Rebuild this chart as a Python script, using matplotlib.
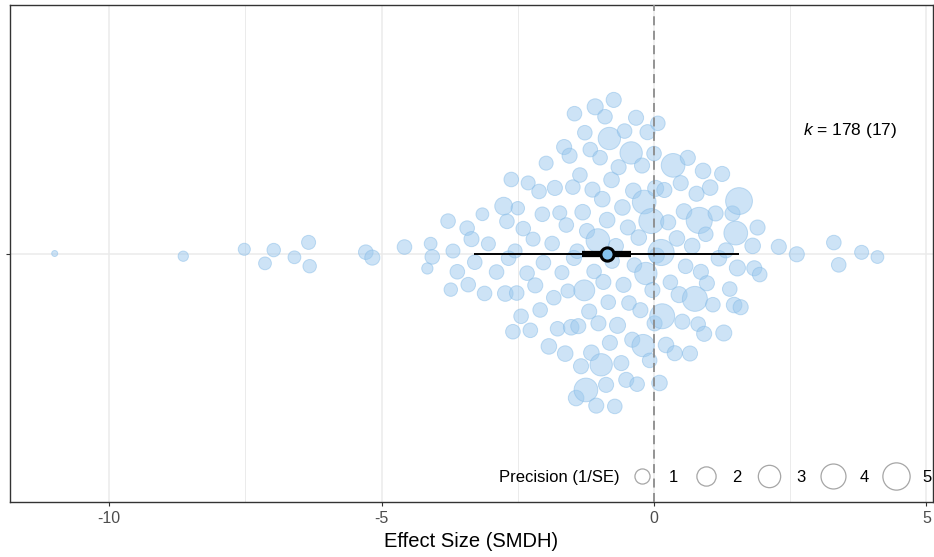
import numpy as np
import matplotlib
matplotlib.use("Agg")
import matplotlib.pyplot as plt
from matplotlib.lines import Line2D

plt.rcParams['font.family'] = ['Liberation Sans', 'DejaVu Sans']
plt.rcParams['mathtext.fontset'] = 'custom'
plt.rcParams['mathtext.rm'] = 'Liberation Sans'
plt.rcParams['mathtext.it'] = 'Liberation Sans:italic'
plt.rcParams['axes.unicode_minus'] = False

# effect sizes (SMDH), with their precision (1/SE)
es = [-11.0, -8.64, -7.52, -7.14, -6.98, -6.60, -6.34, -6.32, -5.29, -5.17,
      -4.58, -4.16, -4.10, -4.07, -3.78, -3.73, -3.69, -3.61,
      -3.43, -3.41, -3.35, -3.29, -3.15, -3.11, -3.04, -2.89, -2.76, -2.73,
      -2.70, -2.67, -2.62, -2.59, -2.55, -2.52, -2.50,
      -2.44, -2.40, -2.33, -2.31, -2.27, -2.22, -2.18, -2.11, -2.09, -2.05,
      -2.03, -1.98, -1.93, -1.87, -1.84, -1.82, -1.77, -1.73, -1.69, -1.65,
      -1.63, -1.61, -1.58, -1.55, -1.52,
      -1.49, -1.47, -1.46, -1.43, -1.41, -1.39, -1.36, -1.34, -1.31, -1.28,
      -1.27, -1.25, -1.23, -1.19, -1.17, -1.15, -1.13, -1.10, -1.08, -1.06,
      -1.03, -1.02, -0.99, -0.97, -0.95, -0.93, -0.90, -0.88, -0.86, -0.84,
      -0.82, -0.81, -0.78, -0.77, -0.74, -0.72, -0.70, -0.67, -0.65,
      -0.60, -0.58, -0.56, -0.54, -0.51,
      -0.48, -0.46, -0.42, -0.40, -0.38, -0.36, -0.33, -0.31, -0.28, -0.25,
      -0.22, -0.20, -0.18, -0.15, -0.12, -0.08, -0.05, -0.03, 0.00, 0.01,
      0.03, 0.05, 0.07, 0.10, 0.13, 0.15, 0.19, 0.22, 0.26, 0.30,
      0.35, 0.38, 0.42, 0.46, 0.49,
      0.52, 0.55, 0.58, 0.62, 0.66, 0.70, 0.75, 0.78, 0.81, 0.83,
      0.86, 0.90, 0.92, 0.95, 0.97, 1.03, 1.08, 1.13, 1.19, 1.25,
      1.28, 1.32, 1.39, 1.44, 1.47,
      1.50, 1.53, 1.56, 1.59, 1.81, 1.84, 1.90, 1.94, 2.29,
      2.62, 3.30, 3.39, 3.81, 4.10]

prec = [0.1, 0.3, 0.5, 0.6, 0.7, 0.6, 0.8, 0.7, 0.9, 1.0,
        0.9, 0.4, 0.6, 0.9, 0.9, 0.7, 0.8, 0.9,
        0.9, 0.9, 1.0, 0.9, 0.6, 0.9, 0.8, 0.9, 1.6, 1.1,
        0.9, 0.9, 0.9, 0.9, 0.8, 0.9, 0.7,
        0.9, 0.9, 0.9, 0.8, 0.9, 0.8, 1.0, 0.9, 0.9, 0.9,
        0.9, 0.8, 1.1, 0.9, 0.9, 1.0, 0.9, 0.8, 0.8, 1.0,
        1.1, 0.9, 0.8, 1.0, 1.1,
        0.9, 1.0, 0.9, 1.1, 0.9, 1.0, 0.9, 1.0, 1.1, 2.5,
        0.9, 3.5, 1.0, 1.0, 0.9, 1.1, 1.0, 0.9, 1.2, 1.0,
        3.5, 1.0, 0.9, 3.0, 1.1, 1.0, 0.9, 1.0, 1.1, 0.9,
        3.0, 1.0, 1.1, 0.9, 1.0, 0.9, 1.0, 1.2, 1.0,
        1.0, 1.1, 1.0, 0.9, 1.0,
        1.0, 0.9, 3.0, 1.0, 1.1, 0.9, 1.0, 0.9, 1.1, 1.0,
        1.0, 3.0, 3.5, 3.0, 1.0, 0.9, 4.0, 1.0, 0.9, 1.0,
        1.2, 1.0, 0.9, 1.1, 4.5, 4.0, 1.0, 1.1, 1.0, 0.9,
        3.5, 1.0, 1.1, 1.2, 1.0,
        1.0, 1.1, 0.9, 1.0, 1.0, 1.1, 4.0, 1.0, 0.9, 4.5,
        1.0, 1.1, 1.0, 0.9, 1.0, 1.1, 0.9, 1.0, 1.1, 1.0,
        1.2, 1.0, 0.9, 1.0, 1.1,
        3.5, 1.2, 4.8, 1.0, 1.1, 1.0, 1.0, 0.9, 1.0,
        1.0, 0.9, 0.9, 0.8, 0.6]

# overall estimate, confidence and prediction intervals
est_mean = -0.86
ci = [-1.32, -0.42]
pi = [-3.30, 1.56]
k_es, k_studies = 178, 17
legend_breaks = [1, 2, 3, 4, 5]

es = np.array(es)
prec = np.array(prec)


def vdc(n, base=2):
    out = []
    for i in range(1, n + 1):
        q, denom, k = 0.0, 1.0, i
        while k:
            denom *= base
            k, r = divmod(k, base)
            q += r / denom
        out.append(q)
    return np.array(out)


def quasirandom(v, width=0.4, adjust=0.5):
    # same idea as ggbeeswarm::offset_quasirandom
    n = len(v)
    sd = v.std(ddof=1)
    iqr = np.subtract(*np.percentile(v, [75, 25]))
    bw = 0.9 * min(sd, iqr / 1.34) * n ** -0.2 * adjust
    grid = np.linspace(v.min() - 3 * bw, v.max() + 3 * bw, 512)
    gd = np.exp(-0.5 * ((grid[:, None] - v[None, :]) / bw) ** 2).sum(1)
    pd_ = np.exp(-0.5 * ((v[:, None] - v[None, :]) / bw) ** 2).sum(1)
    pd_ = pd_ / gd.max()
    ranks = np.argsort(np.argsort(v, kind='stable'), kind='stable')
    offs = vdc(n)[ranks]
    return (offs - 0.5) * 2 * width * pd_


def size_pt2(p):
    d_px = 6 + 9.6 * np.sqrt(np.clip(np.asarray(p, float) - 0.1, 0, None))
    return (d_px * 0.72) ** 2


yy = 1 + quasirandom(es)

fig = plt.figure(figsize=(9.34, 5.57), dpi=100)
ax = fig.add_axes([10/934, 1 - 502/557, 923/934, 497/557])

ax.set_xlim(-11.82, 5.12)
ax.set_ylim(0.4, 1.6)
ax.set_xticks([-10, -5, 0, 5])
ax.set_xticks([-7.5, -2.5, 2.5], minor=True)
ax.set_yticks([1])
ax.set_yticklabels([''])
ax.grid(True, which='major', color='#EBEBEB', lw=1.1)
ax.grid(True, which='minor', axis='x', color='#EBEBEB', lw=0.7)
ax.set_axisbelow(True)
ax.tick_params(axis='both', which='major', length=3, width=0.8, color='#333333',
               labelsize=11.5, labelcolor='#4D4D4D')
ax.tick_params(axis='x', which='minor', length=0)
for s in ax.spines.values():
    s.set_color('#333333')
    s.set_linewidth(1.0)

ax.scatter(es, yy, s=size_pt2(prec), facecolor='#9CC9EE', edgecolor='#86BBE7',
           linewidth=0.7, alpha=0.5, zorder=2)

ax.axvline(0, color='#8C8C8C', ls=(0, (5, 3)), lw=1.3, zorder=3)

ax.plot(pi, [1, 1], color='black', lw=1.4, solid_capstyle='butt', zorder=4)
ax.plot(ci, [1, 1], color='black', lw=4.5, solid_capstyle='butt', zorder=5)
ax.scatter([est_mean], [1], s=90, facecolor='#85C1EC', edgecolor='black',
           linewidth=2.2, zorder=6)

ax.text(0.91, 0.748, r"$k$ = %d (%d)" % (k_es, k_studies),
        transform=ax.transAxes, ha='center', va='center', fontsize=12.5, color='black')

ax.set_xlabel('Effect Size (SMDH)', fontsize=14.5, labelpad=4)

handles = [Line2D([], [], ls='none', marker='o', markerfacecolor='none',
                  markeredgecolor='#A6A6A6', markeredgewidth=0.9,
                  markersize=np.sqrt(size_pt2(b))) for b in legend_breaks]
leg = ax.legend(handles, [str(b) for b in legend_breaks], ncol=5, frameon=False,
                loc='center right', bbox_to_anchor=(0.999, 0.05), fontsize=12,
                handlelength=1.6, handletextpad=0.8, columnspacing=0.85,
                borderpad=0, borderaxespad=0)
ax.text(0.661, 0.05, 'Precision (1/SE)', transform=ax.transAxes, ha='right',
        va='center', fontsize=12)

fig.savefig('out.png', dpi=100)
